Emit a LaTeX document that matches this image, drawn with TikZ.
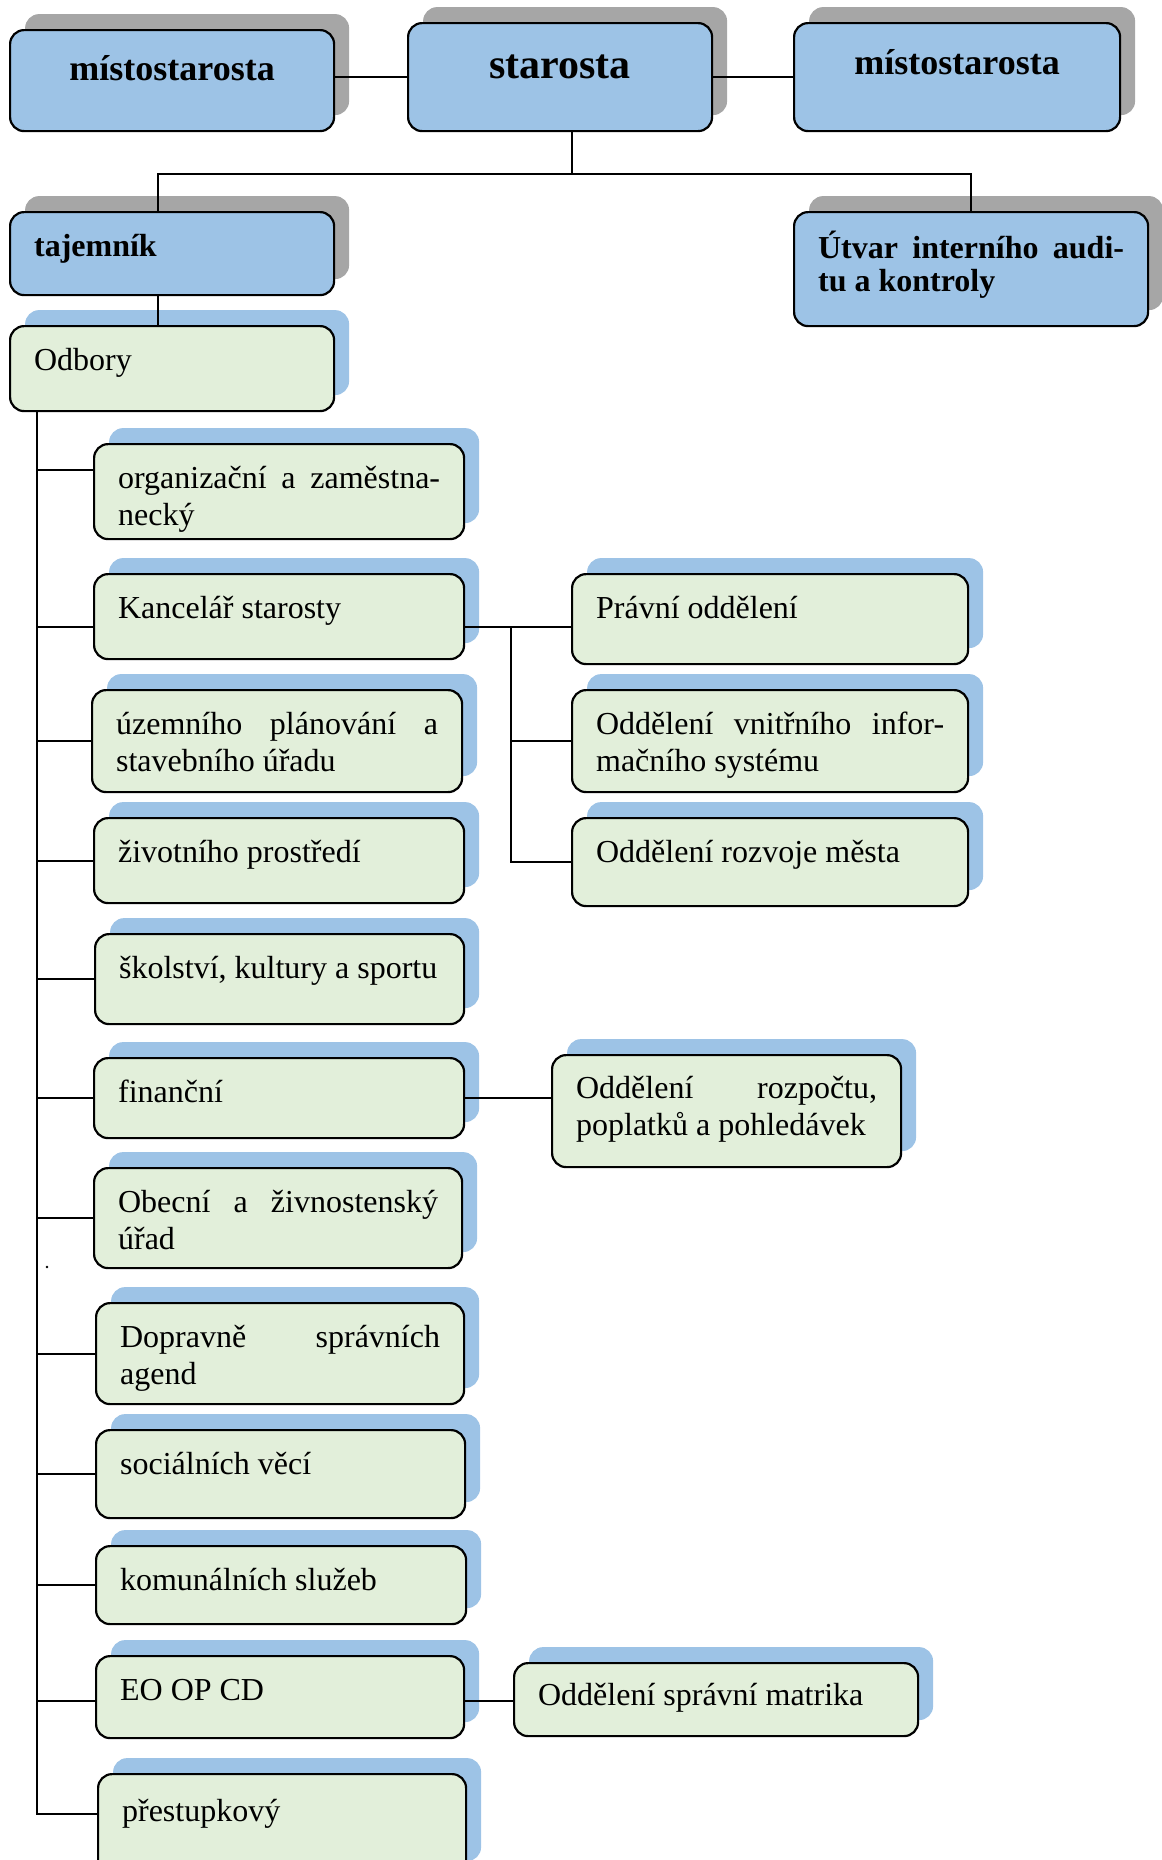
\documentclass[tikz,border=0pt]{standalone}
\usepackage{fontspec}
\setmainfont{Liberation Serif}
\usetikzlibrary{shadows,calc}

\definecolor{headblue}{RGB}{157,195,230}
\definecolor{deptgreen}{RGB}{226,239,218}
\definecolor{shadowgray}{RGB}{166,166,166}

\tikzset{
  box/.style={draw, line width=1.1pt, rounded corners=7pt, anchor=north west,
    inner xsep=12pt, inner ysep=0pt, text height=22pt, align=justify},
  head/.style={box, fill=headblue, font=\bfseries\fontsize{16}{16.5}\selectfont,
    drop shadow={shadow xshift=7.5pt, shadow yshift=8pt, fill=shadowgray, opacity=1}},
  dept/.style={box, fill=deptgreen, font=\fontsize{16}{18.5}\selectfont,
    drop shadow={shadow xshift=7.5pt, shadow yshift=8pt, fill=headblue, opacity=1}},
  wh/.style 2 args={text width=#1*0.5pt-24pt, text depth=#2*0.5pt-22pt},
  link/.style={line width=0.9pt},
}

\begin{document}
\begin{tikzpicture}[x=0.5pt,y=-0.5pt]
  \useasboundingbox (0,0) rectangle (1162,1860);

  % vedeni uradu
  \node[head, wh={324}{101}, align=center, text height=25pt, text depth=25.5pt,
    font=\bfseries\fontsize{18}{20}\selectfont] (mistoL) at (9,29) {místostarosta};
  \node[head, wh={304}{108}, align=center, text height=27.5pt, text depth=26.5pt,
    font=\bfseries\fontsize{21}{23}\selectfont] (starosta) at (407,22) {starosta};
  \node[head, wh={326}{108}, align=center, text height=25.5pt, text depth=28.5pt,
    font=\bfseries\fontsize{18}{20}\selectfont] (mistoR) at (793,22) {místostarosta};

  \node[head, wh={324}{83}] (tajemnik) at (9,211) {tajemník};
  \node[head, wh={354}{114}, text height=23pt, text depth=34pt] (utvar) at (793,211)
    {Útvar\hfill interního\hfill audi-\\tu a kontroly};

  \node[dept, wh={324}{85}] (odbory) at (9,325) {Odbory};

  % odbory
  \node[dept, wh={370}{95}] (org) at (93,443) {organizační\hfill a\hfill zaměstna-\\necký};
  \node[dept, wh={370}{85}] (kanc) at (93,573) {Kancelář starosty};
  \node[dept, wh={370}{102}] (uzem) at (91,689) {územního\hfill plánování\hfill a\\stavebního úřadu};
  \node[dept, wh={370}{85}] (ziv) at (93,817) {životního prostředí};
  \node[dept, wh={369}{90}] (skol) at (94,933) {školství, kultury a sportu};
  \node[dept, wh={370}{80}] (fin) at (93,1057) {finanční};
  \node[dept, wh={368}{100}] (obec) at (93,1167) {Obecní\hfill a\hfill živnostenský\\úřad};
  \node[dept, wh={368}{101}] (doprav) at (95,1302) {Dopravně\hfill správních\\agend};
  \node[dept, wh={369}{88}] (soc) at (95,1429) {sociálních věcí};
  \node[dept, wh={370}{78}] (kom) at (95,1545) {komunálních služeb};
  \node[dept, wh={368}{82}] (eo) at (95,1655) {EO OP CD};
  \node[dept, wh={368}{100}, text height=23.5pt] (prest) at (97,1773) {přestupkový};

  % oddeleni
  \node[dept, wh={396}{90}] (pravni) at (571,573) {Právní oddělení};
  \node[dept, wh={396}{102}] (ovis) at (571,689) {Oddělení\hfill vnitřního\hfill infor-\\mačního systému};
  \node[dept, wh={396}{88}] (rozvoj) at (571,817) {Oddělení rozvoje města};
  \node[dept, wh={349}{113}, text height=21.5pt] (rozp) at (551,1054) {Oddělení\hfill rozpočtu,\\poplatků a pohledávek};
  \node[dept, wh={404}{75}, text height=21pt] (matrika) at (513,1662) {Oddělení správní matrika};

  % spoje nahore
  \draw[link] (starosta.west) -- (starosta.west -| mistoL.east);
  \draw[link] (starosta.east) -- (starosta.east -| mistoR.west);
  \coordinate (split) at ($(starosta.south)+(12,42)$);
  \coordinate (tajin) at ([xshift=-7pt]tajemnik.north);
  \draw[link] (split |- starosta.south) -- (split) -| (utvar.north);
  \draw[link] (split) -| (tajin);
  \draw[link] ([xshift=-7pt]tajemnik.south) -- ([xshift=-7pt]odbory.north);

  % paterni linka odboru
  \coordinate (spine) at ([xshift=14pt]odbory.south west);
  \draw[link] (spine) |- ([yshift=6pt]prest.west);
  \foreach \d/\s in {org/11,kanc/-5,uzem/0,ziv/0,skol/0,fin/0,obec/0,doprav/0,soc/0,kom/0,eo/-2}{
    \path ([yshift=\s pt]\d.west) coordinate (b);
    \draw[link] (spine |- b) -- (b);
  }

  % oddeleni pod odbory
  \coordinate (kancout) at ([yshift=-5pt]kanc.east);
  \coordinate (sub) at ([xshift=23pt]kancout);
  \draw[link] (kancout) -- (kancout -| pravni.west);
  \draw[link] (sub) |- (rozvoj.west);
  \draw[link] (sub |- ovis.west) -- (ovis.west);
  \draw[link] (fin.east) -- (fin.east -| rozp.west);
  \coordinate (eoout) at ([yshift=-2pt]eo.east);
  \draw[link] (eoout) -- (eoout -| matrika.west);

  \fill (47,1267) circle (0.7pt);
\end{tikzpicture}
\end{document}
